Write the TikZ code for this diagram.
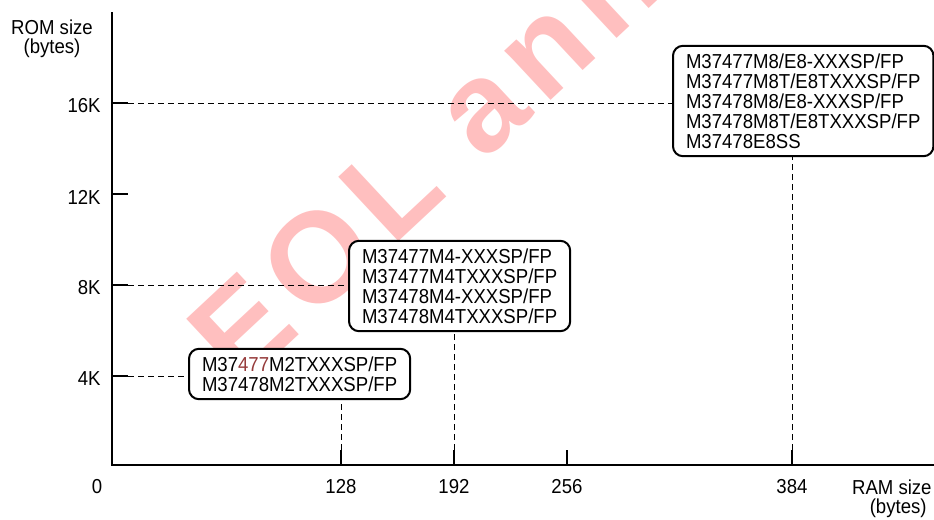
\documentclass[tikz,border=0pt]{standalone}
\usepackage{fontspec}
\setmainfont[FakeStretch=0.92]{Liberation Sans}
\newfontfamily\wmfont[LetterSpace=9]{Liberation Sans Bold}
\definecolor{tintred}{RGB}{150,60,60}
\begin{document}
\begin{tikzpicture}[x=0.5pt,y=-0.5pt,
  every node/.style={font=\fontsize{10.1}{10}\selectfont},
  partbox/.style={draw,fill=white,line width=1pt,rounded corners=5pt,align=left,inner xsep=6.5pt,inner ysep=3.9pt,anchor=west},
  guide/.style={line width=0.5pt,dash pattern=on 3pt off 2pt},
  axis/.style={line width=1.1pt},
  tickline/.style={line width=0.7pt},
  ylab/.style={anchor=east,inner sep=0pt},
  xlab/.style={inner sep=0pt},
  wmark/.style={rotate=43,anchor=base west,inner sep=0pt,text=red,opacity=0.25,font=\fontsize{64}{64}\wmfont}]
\useasboundingbox (0,0) rectangle (934,520);
\clip (0,0) rectangle (934,520);

% watermark (behind everything)
\node[wmark] (wm) at (240,390) {EOL announced};

% axes
\coordinate (orig) at (112,465);
\coordinate (ytop) at (112,12);
\coordinate (xend) at (934,465);
\draw[axis] (ytop) -- (orig) -- (xend);

% axis titles
\node[inner sep=0pt] (romt) at (52,27) {ROM size};
\node[inner sep=0pt] (romu) at (52,48) {(bytes)};
\node[inner sep=0pt,anchor=east] (ramt) at (932,487) {RAM size};
\node[inner sep=0pt,anchor=east] (ramu) at (927,508) {(bytes)};

% y ticks
\coordinate (y16a) at (112,103); \coordinate (y16b) at (128,103);
\coordinate (y12a) at (112,194); \coordinate (y12b) at (128,194);
\coordinate (y8a)  at (112,285); \coordinate (y8b)  at (128,285);
\coordinate (y4a)  at (112,376); \coordinate (y4b)  at (128,376);
\draw[tickline] (y16a) -- (y16b);
\draw[tickline] (y12a) -- (y12b);
\draw[tickline] (y8a) -- (y8b);
\draw[tickline] (y4a) -- (y4b);
\node[ylab] (l16) at (101,106) {16K};
\node[ylab] (l12) at (101,197) {12K};
\node[ylab] (l8)  at (101,288) {8K};
\node[ylab] (l4)  at (101,379) {4K};

% x ticks
\coordinate (x128a) at (341,465); \coordinate (x128b) at (341,450);
\coordinate (x192a) at (454,465); \coordinate (x192b) at (454,450);
\coordinate (x256a) at (567,465); \coordinate (x256b) at (567,450);
\coordinate (x384a) at (792,465); \coordinate (x384b) at (792,450);
\draw[tickline] (x128a) -- (x128b);
\draw[tickline] (x192a) -- (x192b);
\draw[tickline] (x256a) -- (x256b);
\draw[tickline] (x384a) -- (x384b);
\node[xlab] (l0)   at (97,487)  {0};
\node[xlab] (l128) at (341,487) {128};
\node[xlab] (l192) at (454,487) {192};
\node[xlab] (l256) at (567,487) {256};
\node[xlab] (l384) at (792,487) {384};

% part boxes
\node[partbox] (b8) at (672,101) {M37477M8/E8-XXXSP/FP\\M37477M8T/E8TXXXSP/FP\\M37478M8/E8-XXXSP/FP\\M37478M8T/E8TXXXSP/FP\\M37478E8SS};
\node[partbox] (b4) at (348,286) {M37477M4-XXXSP/FP\\M37477M4TXXXSP/FP\\M37478M4-XXXSP/FP\\M37478M4TXXXSP/FP};
\node[partbox] (b2) at (188,374) {M37{\color{tintred}477}M2TXXXSP/FP\\M37478M2TXXXSP/FP};

% guide lines
\draw[guide] (y16b) -- (y16b -| b8.west);
\draw[guide] (y8b) -- (y8b -| b4.west);
\draw[guide] (y4b) -- (y4b -| b2.west);
\draw[guide] (x128b) -- (x128b |- b2.south);
\draw[guide] (x192b) -- (x192b |- b4.south);
\draw[guide] (x384b) -- (x384b |- b8.south);
\end{tikzpicture}
\end{document}
